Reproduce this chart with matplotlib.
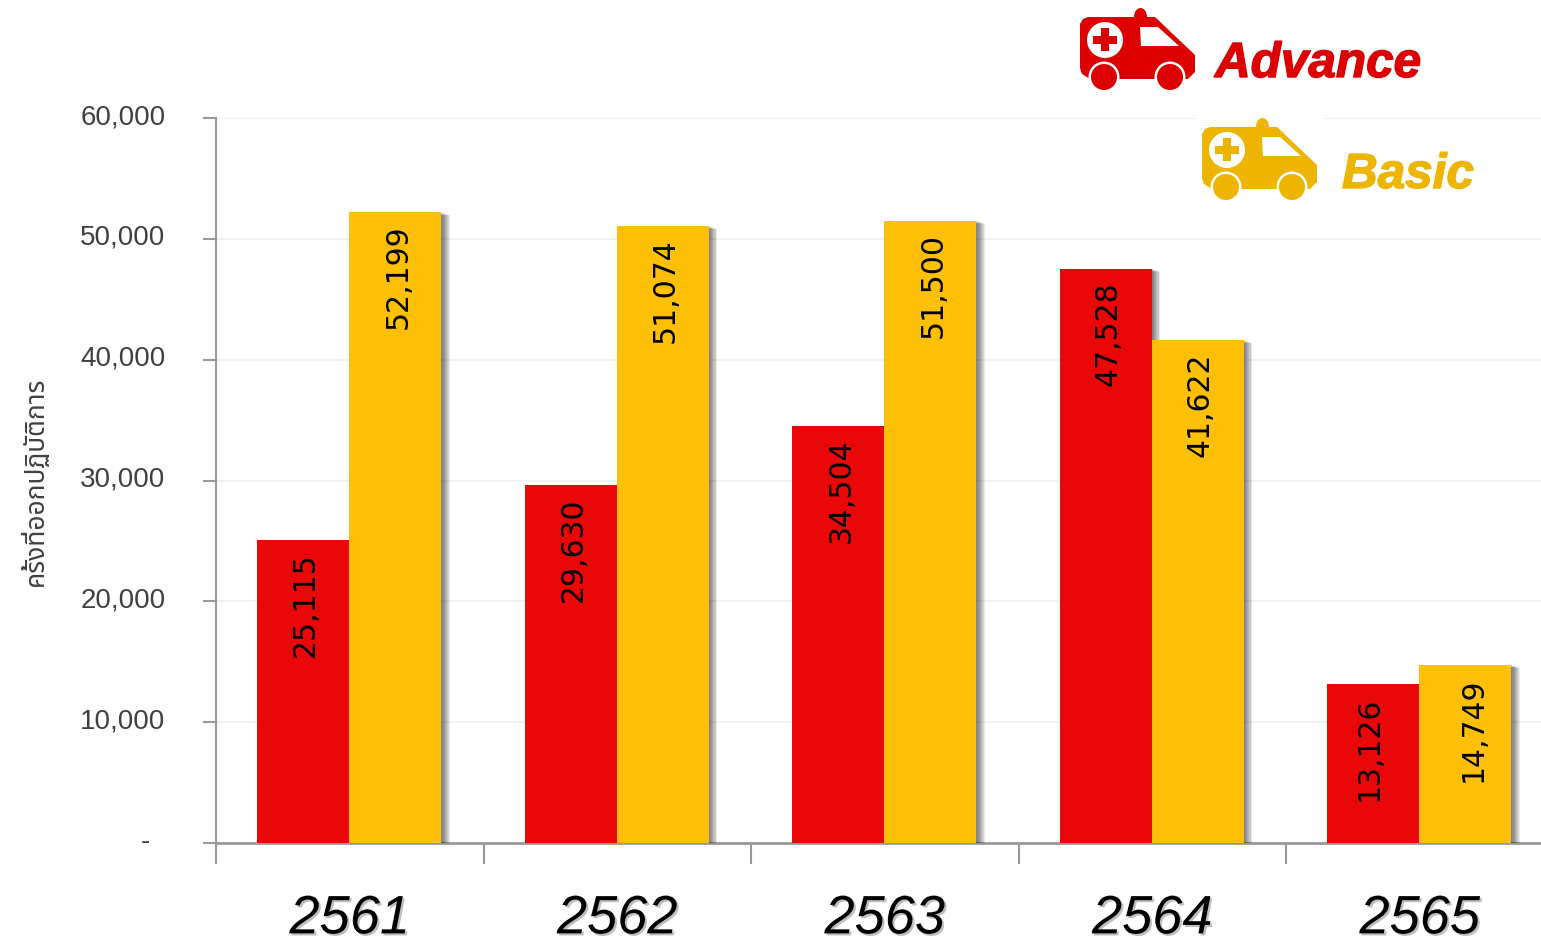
import numpy as np
import matplotlib
matplotlib.use('Agg')
from matplotlib import pyplot as plt
from matplotlib import patheffects as pe
from matplotlib.patches import Circle, Ellipse, Polygon, Rectangle
from matplotlib.transforms import ScaledTranslation

years = ['2561', '2562', '2563', '2564', '2565']
advance = [25115, 29630, 34504, 47528, 13126]
basic = [52199, 51074, 51500, 41622, 14749]
yticks = [0, 10000, 20000, 30000, 40000, 50000, 60000]
ylabels = ['-  ', '10,000', '20,000', '30,000', '40,000', '50,000', '60,000']
ytitle = 'ครั้งที่ออกปฏิบัติการ'

W, H = 1541, 942
RED, YELLOW = '#E90707', '#FDC006'
GREY = '#999999'

fig = plt.figure(figsize=(W / 100, H / 100), dpi=100)
# axes runs past the right edge of the figure, same as the original
ax = fig.add_axes([216 / W, 1 - 843 / H, 1337.5 / W, 725 / H])
ax.set_xlim(0, 5)
ax.set_ylim(0, 60000)

# stacked offsets to fake the soft shadow
shadow = [pe.SimplePatchShadow(offset=(o, -o * 0.35), shadow_rgbFace='#000000', alpha=0.08, rho=1)
          for o in (6.2, 5.5, 4.8, 4, 3.2, 2.4, 1.6, 0.8)]
x = np.arange(5) + 0.5
w = 92 / 267.5
ax.bar(x - w / 2 - 0.0015, advance, w, color=RED, zorder=3, path_effects=shadow + [pe.Normal()])
ax.bar(x + w / 2 - 0.0015, basic, w, color=YELLOW, zorder=4, path_effects=shadow + [pe.Normal()])

# the last pair of labels sits further apart in the original
nudge = {13126: -5, 14749: 3.5}
for xs, vals in ((x - w / 2, advance), (x + w / 2, basic)):
    for xi, v in zip(xs, vals):
        ax.annotate(f'{v:,}', (xi, v), xytext=(1.5 + nudge.get(v, 0), -9), textcoords='offset points', rotation=90,
                    ha='center', va='top', fontsize=21.5, color='black', family='DejaVu Sans', zorder=6)

ax.set_yticks(yticks)
ax.set_yticklabels(ylabels, family='Liberation Sans', fontsize=20, color='#404040')
ax.tick_params(axis='y', length=9.5, width=1.5, color=GREY, pad=27)
up = ScaledTranslation(0, 4 / 100, fig.dpi_scale_trans)
for lab in ax.get_yticklabels():
    lab.set_transform(lab.get_transform() + up)
ax.set_xticks(np.arange(6))
ax.set_xticklabels([])
ax.set_xticks(x, minor=True)
ax.set_xticklabels(years, minor=True, family='Liberation Sans', style='italic', fontsize=39, color='black',
                   path_effects=[pe.SimplePatchShadow(offset=(1.5, -1.5), alpha=0.25), pe.Normal()])
ax.tick_params(axis='x', which='major', length=15, width=1.5, color=GREY)
ax.tick_params(axis='x', which='minor', length=0, pad=37)
ax.grid(axis='y', color='#F2F2F2', lw=1.5, zorder=0)
ax.set_axisbelow(True)
for s in ('top', 'right'):
    ax.spines[s].set_visible(False)
ax.spines['left'].set_color(GREY)
ax.spines['left'].set_linewidth(1.5)
ax.spines['bottom'].set_color(GREY)
ax.spines['bottom'].set_linewidth(2)

fig.text(36 / W, 1 - 481 / H, ytitle, rotation=90, ha='center', va='center', fontsize=19, color='#404040',
         family=['Noto Sans Thai', 'Noto Sans', 'DejaVu Sans'])

# overlay in pixel coordinates for the ambulance icons
ov = fig.add_axes([0, 0, 1, 1], zorder=10)
ov.set_xlim(0, W)
ov.set_ylim(H, 0)
ov.axis('off')


def ambulance(dx, dy, col):
    ov.add_patch(Ellipse((1140.5 + dx, 17 + dy), 13, 18, color=col, lw=0))
    body = [(1080, 24), (1083, 19), (1088, 17), (1155, 17), (1195, 55), (1195, 72), (1188, 79), (1090, 79),
            (1082, 74), (1080, 68)]
    ov.add_patch(Polygon([(a + dx, b + dy) for a, b in body], color=col, lw=0))
    ov.add_patch(Polygon([(1140 + dx, 27 + dy), (1158 + dx, 27 + dy), (1179 + dx, 46 + dy), (1141 + dx, 46 + dy)],
                         color='white', lw=0))
    ov.add_patch(Circle((1105 + dx, 40 + dy), 18, color='white', lw=0))
    ov.add_patch(Rectangle((1093 + dx, 36 + dy), 24, 8, color=col, lw=0))
    ov.add_patch(Rectangle((1101 + dx, 28 + dy), 8, 23, color=col, lw=0))
    for cx in (1104, 1170):
        ov.add_patch(Circle((cx + dx, 77 + dy), 15.5, color='white', lw=0))
        ov.add_patch(Circle((cx + dx, 77 + dy), 13, color=col, lw=0))


ov.add_patch(Rectangle((1197, 112), 126, 12, color='white', lw=0))
ambulance(0, 0, '#DD0000')
ambulance(122, 110, '#EDB500')
for tx, ty, s, col in ((1215, 77, 'Advance', '#DD0000'), (1342, 188, 'Basic', '#EDB500')):
    ov.text(tx, ty, s, family='Liberation Sans', style='italic', weight='bold', fontsize=35.6, color=col,
            path_effects=[pe.withStroke(linewidth=1, foreground=col)])

plt.savefig('out.png', dpi=100)
